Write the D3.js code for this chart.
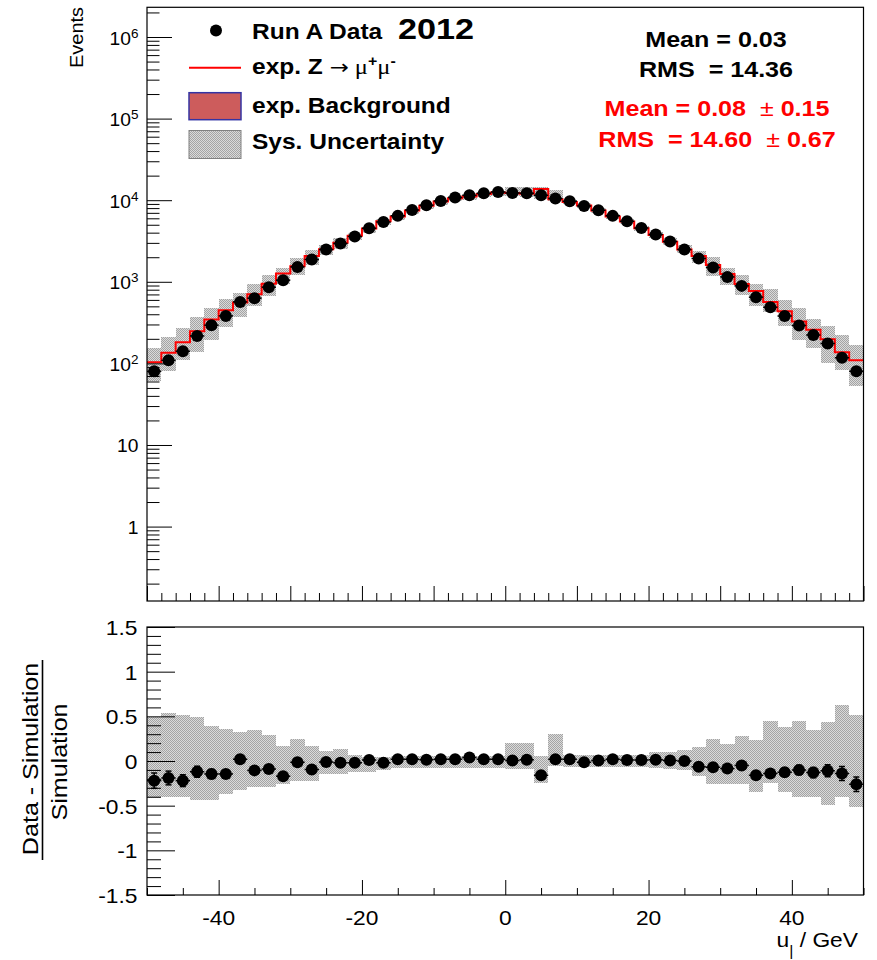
<!DOCTYPE html>
<html>
<head>
<meta charset="utf-8">
<script src="https://cdn.jsdelivr.net/npm/d3@7"></script>
<style>
  body { margin: 0; background: #fff; }
  svg { display: block; font-family: "Liberation Sans", Arial, sans-serif; }
  text { white-space: pre; }
</style>
</head>
<body>
<svg id="chart" width="877" height="960"></svg>
<script>
// ---- binning (2 GeV bins from -50 to 50) ----
const binCenters = [-49, -47, -45, -43, -41, -39, -37, -35, -33, -31,
                    -29, -27, -25, -23, -21, -19, -17, -15, -13, -11,
                     -9,  -7,  -5,  -3,  -1,   1,   3,   5,   7,   9,
                     11,  13,  15,  17,  19,  21,  23,  25,  27,  29,
                     31,  33,  35,  37,  39,  41,  43,  45,  47,  49];
const binWidth = 2;

// ---- Run A data counts per bin ----
const dataCounts = [80, 109, 141, 217, 294, 382, 567, 630, 859, 1047,
                    1523, 1877, 2488, 2946, 3590, 4538, 5420, 6425, 7600, 8690,
                    9800, 10790, 11510, 12180, 12640, 12280, 12150, 11510, 10490, 9720,
                    8510, 7540, 6425, 5530, 4575, 3800, 3118, 2488, 1931, 1497,
                    1148, 891, 648, 488, 382, 291, 223, 175, 117, 80];

// ---- expected Z -> mu mu (simulation) per bin ----
const simCounts = [103, 135, 181, 247, 344, 447, 556, 704, 944, 1261,
                   1546, 2074, 2513, 3006, 3663, 4493, 5531, 6299, 7451, 8562,
                   9608, 10578, 11067, 11941, 12392, 12219, 11970, 13702, 10284, 9529,
                   8640, 7502, 6299, 5475, 4530, 3744, 3102, 2488, 2065, 1610,
                   1248, 938, 771, 567, 437, 325, 258, 197, 137, 109];

// ---- relative statistical uncertainty of the data ----
const statErr = [0.11, 0.095, 0.085, 0.07, 0.06, 0.05, 0.042, 0.04, 0.034, 0.031,
                 0.026, 0.023, 0.02, 0.018, 0.017, 0.015, 0.014, 0.012, 0.011, 0.011,
                 0.01, 0.01, 0.009, 0.009, 0.009, 0.009, 0.009, 0.009, 0.01, 0.01,
                 0.011, 0.012, 0.012, 0.013, 0.015, 0.016, 0.018, 0.02, 0.023, 0.026,
                 0.03, 0.034, 0.039, 0.045, 0.051, 0.059, 0.067, 0.076, 0.092, 0.11];

// ---- (Data - Simulation) / Simulation ----
const ratio = [-0.22, -0.19, -0.22, -0.12, -0.145, -0.145, 0.02, -0.105, -0.09, -0.17,
               -0.015, -0.095, -0.01, -0.02, -0.02, 0.01, -0.02, 0.02, 0.02, 0.015,
               0.02, 0.02, 0.04, 0.02, 0.02, 0.005, 0.015, -0.16, 0.02, 0.02,
               -0.015, 0.005, 0.02, 0.01, 0.01, 0.015, 0.005, 0.0, -0.065, -0.07,
               -0.085, -0.05, -0.16, -0.14, -0.125, -0.1, -0.13, -0.11, -0.14, -0.26];

// ---- relative systematic uncertainty (up / down) ----
const sysUp = [0.49, 0.54, 0.52, 0.49, 0.39, 0.36, 0.32, 0.35, 0.29, 0.17,
               0.25, 0.17, 0.11, 0.13, 0.07, 0.05, 0.05, 0.06, 0.06, 0.06,
               0.06, 0.06, 0.06, 0.06, 0.06, 0.20, 0.20, 0.06, 0.30, 0.07,
               0.07, 0.07, 0.07, 0.07, 0.07, 0.10, 0.10, 0.12, 0.16, 0.25,
               0.19, 0.28, 0.23, 0.45, 0.38, 0.45, 0.35, 0.44, 0.63, 0.52];
const sysDown = [0.41, 0.40, 0.40, 0.44, 0.44, 0.37, 0.33, 0.29, 0.29, 0.26,
                 0.22, 0.22, 0.15, 0.15, 0.12, 0.12, 0.10, 0.08, 0.08, 0.08,
                 0.08, 0.08, 0.08, 0.08, 0.08, 0.09, 0.09, 0.25, 0.06, 0.07,
                 0.07, 0.07, 0.07, 0.07, 0.07, 0.08, 0.09, 0.10, 0.17, 0.26,
                 0.26, 0.26, 0.35, 0.25, 0.35, 0.40, 0.40, 0.49, 0.40, 0.51];

// ---- axis ticks ----
const eventDecades = [1, 10, 100, 1e3, 1e4, 1e5, 1e6];
const xLabelTicks = [-40, -20, 0, 20, 40];
const ratioTicks = [-1.5, -1, -0.5, 0, 0.5, 1, 1.5];

// ---- statistics boxes ----
const dataStats = ["Mean = 0.03", "RMS  = 14.36"];
const simStats = [["Mean = 0.08  ", "\u00B1", " 0.15"], ["RMS  = 14.60  ", "\u00B1", " 0.67"]];

// ---------------------------------------------------------------
const SX = 1.14;  // horizontal glyph stretch used for most labels
const left = 147, right = 863.5;
const top1 = 7.3, bot1 = 601, top2 = 627, bot2 = 895;

const svg = d3.select("#chart");

const x = d3.scaleLinear().domain([-50, 50]).range([left, right]);
const yTop = d3.scaleLog().domain([Math.pow(10, -0.912), Math.pow(10, 6.364)]).range([bot1, top1]);
const yRat = d3.scaleLinear().domain([-1.5, 1.5]).range([bot2, top2]);

// dotted fill used for the systematic band
const defs = svg.append("defs");
const pat = defs.append("pattern").attr("id", "sysfill")
  .attr("width", 2).attr("height", 2).attr("patternUnits", "userSpaceOnUse");
pat.append("rect").attr("width", 2).attr("height", 2).attr("fill", "#dadada");
pat.append("rect").attr("width", 1).attr("height", 1).attr("fill", "#a4a4a4");
pat.append("rect").attr("x", 1).attr("y", 1).attr("width", 1).attr("height", 1).attr("fill", "#a4a4a4");

defs.append("clipPath").attr("id", "clipTop").append("rect")
  .attr("x", left).attr("y", top1).attr("width", right - left).attr("height", bot1 - top1);
defs.append("clipPath").attr("id", "clipBot").append("rect")
  .attr("x", left).attr("y", top2).attr("width", right - left).attr("height", bot2 - top2);

function label(parent, px, py, size, opt = {}) {
  return parent.append("text")
    .attr("transform", `translate(${px},${py})${opt.rotate ? " rotate(-90)" : ""} scale(${opt.sx || SX},1)`)
    .attr("text-anchor", opt.anchor || "start")
    .attr("font-size", size)
    .attr("font-weight", opt.bold ? "bold" : null)
    .attr("fill", opt.color || "#000");
}

const bins = binCenters.map((c, i) => ({
  c, lo: c - binWidth / 2, hi: c + binWidth / 2,
  data: dataCounts[i], sim: simCounts[i], err: statErr[i],
  r: ratio[i], up: sysUp[i], down: sysDown[i]
}));

// =================== upper panel ===================
const gTop = svg.append("g").attr("clip-path", "url(#clipTop)");

gTop.selectAll("rect.sys").data(bins).join("rect").attr("class", "sys")
  .attr("x", d => x(d.lo)).attr("width", d => x(d.hi) - x(d.lo))
  .attr("y", d => yTop(d.sim * (1 + d.up)))
  .attr("height", d => yTop(d.sim * (1 - d.down)) - yTop(d.sim * (1 + d.up)))
  .attr("fill", "url(#sysfill)").attr("shape-rendering", "crispEdges");

const stepPts = bins.map(d => [d.lo, d.sim]).concat([[bins[bins.length - 1].hi, bins[bins.length - 1].sim]]);
gTop.append("path").datum(stepPts)
  .attr("d", d3.line().x(p => x(p[0])).y(p => yTop(p[1])).curve(d3.curveStepAfter))
  .attr("fill", "none").attr("stroke", "#ff0000").attr("stroke-width", 2);

const errTop = gTop.append("g").attr("stroke", "#000").attr("stroke-width", 1.5);
errTop.selectAll("line.h").data(bins).join("line").attr("class", "h")
  .attr("x1", d => x(d.lo)).attr("x2", d => x(d.hi))
  .attr("y1", d => yTop(d.data)).attr("y2", d => yTop(d.data));
errTop.selectAll("line.v").data(bins).join("line").attr("class", "v")
  .attr("x1", d => x(d.c)).attr("x2", d => x(d.c))
  .attr("y1", d => yTop(d.data * (1 - d.err))).attr("y2", d => yTop(d.data * (1 + d.err)));
gTop.selectAll("circle").data(bins).join("circle")
  .attr("cx", d => x(d.c)).attr("cy", d => yTop(d.data)).attr("r", 6).attr("fill", "#000");

// axes of the upper panel (ticks point inwards)
function styleAxis(g) {
  g.select(".domain").remove();
  g.selectAll(".tick line").attr("stroke", "#000").attr("stroke-width", 1);
  g.selectAll(".tick text").remove();
}
const topMajorX = d3.range(-50, 51, 10);
const topMinorX = d3.range(-50, 51, 2).filter(v => v % 10 !== 0);
svg.append("g").attr("transform", `translate(0,${bot1})`)
  .call(d3.axisBottom(x).tickValues(topMajorX).tickSize(-15).tickFormat("")).call(styleAxis);
svg.append("g").attr("transform", `translate(0,${bot1})`)
  .call(d3.axisBottom(x).tickValues(topMinorX).tickSize(-8).tickFormat("")).call(styleAxis);

const [lmin, lmax] = yTop.domain();
const logMinor = [];
for (let e = -1; e <= 6; e++) for (let k = 2; k <= 9; k++) {
  const v = k * Math.pow(10, e);
  if (v > lmin && v < lmax) logMinor.push(v);
}
svg.append("g").attr("transform", `translate(${left},0)`)
  .call(d3.axisLeft(yTop).tickValues(eventDecades).tickSize(-25).tickFormat("")).call(styleAxis);
svg.append("g").attr("transform", `translate(${left},0)`)
  .call(d3.axisLeft(yTop).tickValues(logMinor).tickSize(-12.5).tickFormat("")).call(styleAxis);

eventDecades.forEach(v => {
  const p = Math.round(Math.log10(v));
  const t = label(svg, 138.5, yTop(v) + 7.5, 18.5, { anchor: "end", sx: 1.04 });
  if (p <= 1) t.text(String(v));
  else {
    t.append("tspan").text("10");
    t.append("tspan").attr("dy", -7).attr("font-size", 13).text(String(p));
  }
});

label(svg, 83, 7, 17.5, { rotate: true, anchor: "end" }).text("Events");

// legend
svg.append("circle").attr("cx", 216).attr("cy", 30.5).attr("r", 6).attr("fill", "#000");
svg.append("line").attr("x1", 189).attr("x2", 241).attr("y1", 67.7).attr("y2", 67.7)
  .attr("stroke", "#ff0000").attr("stroke-width", 2);
svg.append("rect").attr("x", 189).attr("y", 92.7).attr("width", 52).attr("height", 27)
  .attr("fill", "#cd5c5c").attr("stroke", "#3434a4").attr("stroke-width", 1.5);
svg.append("rect").attr("x", 189).attr("y", 130.5).attr("width", 52).attr("height", 28)
  .attr("fill", "url(#sysfill)").attr("stroke", "#808080").attr("stroke-width", 1);

label(svg, 252, 39, 21.5, { bold: true }).text("Run A Data");
label(svg, 398, 39, 30, { bold: true }).text("2012");
const zl = label(svg, 252, 73.5, 21.5, { bold: true });
zl.append("tspan").text("exp. Z ");
zl.append("tspan").attr("font-weight", "normal").attr("font-family", "DejaVu Sans, sans-serif").attr("font-size", 20).text("\u2192");
zl.append("tspan").attr("font-weight", "normal").attr("font-family", "Liberation Serif, serif").text(" \u03BC");
zl.append("tspan").attr("dy", -8).attr("font-size", 14).text("+");
zl.append("tspan").attr("dy", 8).attr("font-weight", "normal").attr("font-family", "Liberation Serif, serif").text("\u03BC");
zl.append("tspan").attr("dy", -8).attr("font-size", 14).text("-");
label(svg, 252, 112.7, 21.5, { bold: true }).text("exp. Background");
label(svg, 252, 148.5, 21.5, { bold: true }).text("Sys. Uncertainty");

// statistics
label(svg, 716, 46.7, 22, { bold: true, anchor: "middle" }).text(dataStats[0]);
label(svg, 716, 77.3, 22, { bold: true, anchor: "middle" }).text(dataStats[1]);
[115.7, 146.7].forEach((yy, i) => {
  const t = label(svg, 717, yy, 22, { bold: true, anchor: "middle", color: "#ff0000" });
  t.append("tspan").text(simStats[i][0]);
  t.append("tspan").attr("font-weight", "normal").text(simStats[i][1]);
  t.append("tspan").text(simStats[i][2]);
});

// =================== ratio panel ===================
const gBot = svg.append("g").attr("clip-path", "url(#clipBot)");
gBot.selectAll("rect.sys").data(bins).join("rect").attr("class", "sys")
  .attr("x", d => x(d.lo)).attr("width", d => x(d.hi) - x(d.lo))
  .attr("y", d => yRat(d.up)).attr("height", d => yRat(-d.down) - yRat(d.up))
  .attr("fill", "url(#sysfill)").attr("shape-rendering", "crispEdges");

const errBot = gBot.append("g").attr("stroke", "#000").attr("stroke-width", 1.5);
const rErr = d => d.err * (1 + d.r);
errBot.selectAll("line.h").data(bins).join("line").attr("class", "h")
  .attr("x1", d => x(d.lo)).attr("x2", d => x(d.hi))
  .attr("y1", d => yRat(d.r)).attr("y2", d => yRat(d.r));
errBot.selectAll("line.v").data(bins).join("line").attr("class", "v")
  .attr("x1", d => x(d.c)).attr("x2", d => x(d.c))
  .attr("y1", d => yRat(d.r - rErr(d))).attr("y2", d => yRat(d.r + rErr(d)));
errBot.selectAll("line.cu").data(bins).join("line").attr("class", "cu")
  .attr("x1", d => x(d.c) - 3).attr("x2", d => x(d.c) + 3)
  .attr("y1", d => yRat(d.r + rErr(d))).attr("y2", d => yRat(d.r + rErr(d)));
errBot.selectAll("line.cd").data(bins).join("line").attr("class", "cd")
  .attr("x1", d => x(d.c) - 3).attr("x2", d => x(d.c) + 3)
  .attr("y1", d => yRat(d.r - rErr(d))).attr("y2", d => yRat(d.r - rErr(d)));
gBot.selectAll("circle").data(bins).join("circle")
  .attr("cx", d => x(d.c)).attr("cy", d => yRat(d.r)).attr("r", 6).attr("fill", "#000");

const botMinorX = d3.range(-50, 51, 5).filter(v => !xLabelTicks.includes(v));
svg.append("g").attr("transform", `translate(0,${bot2})`)
  .call(d3.axisBottom(x).tickValues(xLabelTicks).tickSize(-15).tickFormat("")).call(styleAxis);
svg.append("g").attr("transform", `translate(0,${bot2})`)
  .call(d3.axisBottom(x).tickValues(botMinorX).tickSize(-7).tickFormat("")).call(styleAxis);
const ratioMinor = d3.range(-15, 16).map(v => v / 10).filter(v => !ratioTicks.some(t => Math.abs(t - v) < 1e-9));
svg.append("g").attr("transform", `translate(${left},0)`)
  .call(d3.axisLeft(yRat).tickValues(ratioTicks).tickSize(-28).tickFormat("")).call(styleAxis);
svg.append("g").attr("transform", `translate(${left},0)`)
  .call(d3.axisLeft(yRat).tickValues(ratioMinor).tickSize(-14).tickFormat("")).call(styleAxis);

ratioTicks.forEach(v => {
  label(svg, 137.5, yRat(v) + 8, 20, { anchor: "end" }).text(String(v));
});
xLabelTicks.forEach(v => {
  label(svg, x(v), 925, 20, { anchor: "middle" }).text(String(v));
});

const xt = label(svg, 858, 947, 20, { anchor: "end" });
xt.append("tspan").text("u");
xt.append("tspan").attr("dy", 9).attr("font-size", 14).text("|");
xt.append("tspan").attr("dy", -9).text(" / GeV");

label(svg, 38, 759, 22, { rotate: true, anchor: "middle" }).text("Data - Simulation");
svg.append("line").attr("x1", 42.5).attr("x2", 42.5).attr("y1", 660).attr("y2", 860)
  .attr("stroke", "#000").attr("stroke-width", 1.6);
label(svg, 67, 762, 22, { rotate: true, anchor: "middle" }).text("Simulation");

// frames
[[top1, bot1], [top2, bot2]].forEach(([a, b]) => {
  svg.append("rect").attr("x", left).attr("y", a).attr("width", right - left).attr("height", b - a)
    .attr("fill", "none").attr("stroke", "#000").attr("stroke-width", 1.2);
});
</script>
</body>
</html>
